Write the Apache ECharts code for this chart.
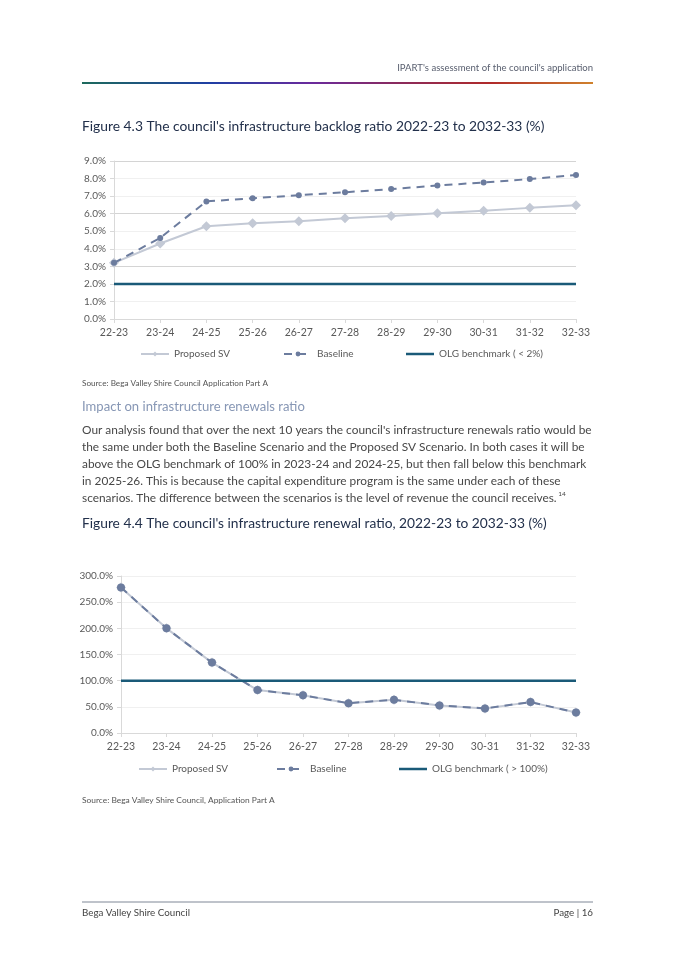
<!DOCTYPE html>
<html><head><meta charset="utf-8">
<script src="https://cdn.jsdelivr.net/npm/echarts/dist/echarts.min.js"></script>
<style>html,body{margin:0;padding:0;background:#fff}#c{width:675px;height:955px}</style>
</head><body><div id="c"></div>
<script>
// ---------- data ----------
const categories = ['22-23','23-24','24-25','25-26','26-27','27-28','28-29','29-30','30-31','31-32','32-33'];
const backlogProposedSV = [3.2, 4.3, 5.28, 5.45, 5.57, 5.74, 5.87, 6.02, 6.17, 6.33, 6.48];
const backlogBaseline   = [3.2, 4.62, 6.7, 6.88, 7.05, 7.22, 7.4, 7.6, 7.78, 7.97, 8.2];
const backlogBenchmark  = [2, 2, 2, 2, 2, 2, 2, 2, 2, 2, 2];
const renewalProposedSV = [278, 200, 134.5, 82, 72, 57, 63.5, 52.7, 47, 59, 39.3];
const renewalBaseline   = [278, 200, 134.5, 82, 72, 57, 63.5, 52.7, 47, 59, 39.3];
const renewalBenchmark  = [100, 100, 100, 100, 100, 100, 100, 100, 100, 100, 100];
const seriesNames = ['Proposed SV', 'Baseline'];
const benchmarkNames = ['OLG benchmark ( < 2%)', 'OLG benchmark ( > 100%)'];
const backlogAxis = {min: 0, max: 9, interval: 1};
const renewalAxis = {min: 0, max: 300, interval: 50};

const headerText = "IPART's assessment of the council's application";
const title1 = "Figure 4.3 The council's infrastructure backlog ratio 2022-23 to 2032-33 (%)";
const source1 = "Source: Bega Valley Shire Council Application Part A";
const heading = "Impact on infrastructure renewals ratio";
const paragraph = [
  "Our analysis found that over the next 10 years the council's infrastructure renewals ratio would be",
  "the same under both the Baseline Scenario and the Proposed SV Scenario. In both cases it will be",
  "above the OLG benchmark of 100% in 2023-24 and 2024-25, but then fall below this benchmark",
  "in 2025-26. This is because the capital expenditure program is the same under each of these",
  "scenarios. The difference between the scenarios is the level of revenue the council receives."
];
const footnoteRef = "14";
const title2 = "Figure 4.4 The council's infrastructure renewal ratio, 2022-23 to 2032-33 (%)";
const source2 = "Source: Bega Valley Shire Council, Application Part A";
const footerLeft = "Bega Valley Shire Council";
const footerRight = "Page | 16";

// ---------- layout helpers ----------
const FONT = 'Lato';
const mctx = document.createElement('canvas').getContext('2d');
function measure(text, size) { mctx.font = size + 'px ' + FONT; return mctx.measureText(text).width; }
function fit(text, width) { return 100 * width / measure(text, 100); }

const chart = echarts.init(document.getElementById('c'), null, {renderer: 'canvas'});

const paraSize = fit(paragraph[0], 510);
const graphics = [];
function txt(text, x, y, size, color, align) {
  graphics.push({type: 'text', x: x, y: y, silent: true,
    style: {text: text, fontSize: size, fontFamily: FONT, fill: color,
            textAlign: align || 'left', textVerticalAlign: 'middle'}});
}
txt(headerText, 593, 68, fit(headerText, 196), '#5a6070', 'right');
graphics.push({type: 'rect', shape: {x: 82, y: 82, width: 511, height: 2}, silent: true,
  style: {fill: new echarts.graphic.LinearGradient(0, 0, 1, 0, [
    {offset: 0, color: '#1d6a5c'}, {offset: 0.25, color: '#1f3fa4'},
    {offset: 0.45, color: '#6a2a9c'}, {offset: 0.62, color: '#8a2a5c'},
    {offset: 0.8, color: '#b02a2a'}, {offset: 1, color: '#d0822c'}])}});
txt(title1, 82, 127, fit(title1, 463), '#22304b');
txt(source1, 82, 383, fit(source1, 186), '#555555');
txt(heading, 82, 407, fit(heading, 223), '#8797b5');
paragraph.forEach((line, i) => txt(line, 82, 430 + i * 17, paraSize, '#474747'));
txt(footnoteRef, 82 + measure(paragraph[4], paraSize) + 1.5, 494, paraSize * 0.55, '#474747');
txt(title2, 82, 524, fit(title2, 465), '#22304b');
txt(source2, 82, 800, fit(source2, 193), '#555555');
graphics.push({type: 'line', shape: {x1: 82, y1: 902, x2: 593, y2: 902}, silent: true,
  style: {stroke: '#7f8796', lineWidth: 1}});
txt(footerLeft, 82, 913, fit(footerLeft, 108), '#444444');
txt(footerRight, 593, 913, fit(footerLeft, 108), '#444444', 'right');

const axisGrey = '#d9d9d9';
const labelColor = '#595959';
function xAxisCfg(gi) {
  return {type: 'category', gridIndex: gi, data: categories, boundaryGap: false,
    axisLine: {lineStyle: {color: axisGrey}},
    axisTick: {show: true, length: 4, lineStyle: {color: axisGrey}},
    axisLabel: {color: labelColor, fontSize: 10.5, fontFamily: FONT, margin: 8},
    splitLine: {show: false}};
}
function yAxisCfg(gi, ax, splitColors) {
  return {type: 'value', gridIndex: gi, min: ax.min, max: ax.max, interval: ax.interval,
    axisLine: {show: true, lineStyle: {color: axisGrey}},
    axisTick: {show: true, length: 4, lineStyle: {color: axisGrey}},
    axisLabel: {color: labelColor, fontSize: 10, fontFamily: FONT, margin: 8,
      formatter: v => v.toFixed(1) + '%'},
    splitLine: {show: true, lineStyle: {color: splitColors, width: 1}}};
}
const propColor = '#c3c9d5', baseColor = '#6c7c9e', olgColor = '#1a5a78';
function seriesFor(gi, prop, base, bench, benchName, baseSize) {
  return [
    {name: seriesNames[0], type: 'line', xAxisIndex: gi, yAxisIndex: gi, data: prop,
      symbol: 'diamond', symbolSize: 10, itemStyle: {color: propColor},
      lineStyle: {color: propColor, width: 2}, z: 2},
    {name: seriesNames[1], type: 'line', xAxisIndex: gi, yAxisIndex: gi, data: base,
      symbol: 'circle', symbolSize: baseSize, itemStyle: {color: baseColor},
      lineStyle: {color: baseColor, width: 2, type: [8, 6]}, z: 3},
    {name: benchName, type: 'line', xAxisIndex: gi, yAxisIndex: gi, data: bench,
      symbol: 'none', itemStyle: {color: olgColor},
      lineStyle: {color: olgColor, width: 2.5}, z: 4}
  ];
}
function legendAt(name, left, cy, plainLine) {
  const lg = {data: [plainLine ? {name: name, icon: 'rect'} : name],
    left: left, top: cy - 7, itemWidth: 28, itemHeight: plainLine ? 2.5 : 6,
    selectedMode: false, padding: 0,
    textStyle: {color: labelColor, fontSize: 10, fontFamily: FONT, lineHeight: 14, height: 14}};
  if (plainLine) lg.itemStyle = {color: olgColor};
  return lg;
}

chart.setOption({
  animation: false,
  graphic: {elements: graphics},
  grid: [
    {left: 114, top: 161, width: 462, height: 158},
    {left: 121, top: 576, width: 455, height: 157}
  ],
  xAxis: [xAxisCfg(0), xAxisCfg(1)],
  yAxis: [
    yAxisCfg(0, backlogAxis, ['#d4d4d4', '#f0f0f0', '#f0f0f0']),
    yAxisCfg(1, renewalAxis, ['#f0f0f0'])
  ],
  legend: [
    legendAt(seriesNames[0], 140, 354), legendAt(seriesNames[1], 283, 354), legendAt(benchmarkNames[0], 406, 354, true),
    legendAt(seriesNames[0], 138, 769), legendAt(seriesNames[1], 276, 769), legendAt(benchmarkNames[1], 399, 769, true)
  ],
  series: [].concat(
    seriesFor(0, backlogProposedSV, backlogBaseline, backlogBenchmark, benchmarkNames[0], 6),
    seriesFor(1, renewalProposedSV, renewalBaseline, renewalBenchmark, benchmarkNames[1], 8)
  )
});
</script>
</body></html>
